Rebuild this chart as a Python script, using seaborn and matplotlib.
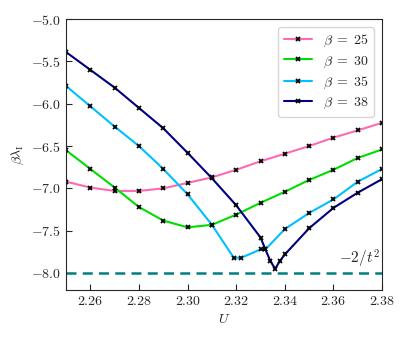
import numpy as np
import pandas as pd
import matplotlib
matplotlib.use('Agg')
import matplotlib.pyplot as plt
import seaborn as sns

# data
u25 = [2.25, 2.26, 2.27, 2.28, 2.29, 2.30, 2.31, 2.32, 2.33, 2.34, 2.35, 2.36, 2.37, 2.38]
b25 = [-6.92, -6.99, -7.03, -7.03, -7.00, -6.935, -6.87, -6.78, -6.68, -6.59, -6.50, -6.40, -6.315, -6.225]

u30 = [2.25, 2.26, 2.27, 2.28, 2.29, 2.30, 2.31, 2.32, 2.33, 2.34, 2.35, 2.36, 2.37, 2.38]
b30 = [-6.55, -6.77, -6.99, -7.22, -7.38, -7.46, -7.43, -7.31, -7.17, -7.04, -6.90, -6.78, -6.64, -6.54]

u35 = [2.25, 2.26, 2.27, 2.28, 2.29, 2.30, 2.31, 2.319, 2.322, 2.33, 2.332, 2.34, 2.35, 2.36, 2.37, 2.38]
b35 = [-5.79, -6.03, -6.27, -6.50, -6.77, -7.07, -7.43, -7.82, -7.82, -7.72, -7.72, -7.48, -7.29, -7.13, -6.92, -6.77]

u38 = [2.25, 2.26, 2.27, 2.28, 2.29, 2.30, 2.31, 2.32, 2.33, 2.332, 2.334, 2.336, 2.338, 2.34, 2.35, 2.36, 2.37, 2.38]
b38 = [-5.39, -5.60, -5.81, -6.05, -6.29, -6.58, -6.88, -7.20, -7.58, -7.72, -7.855, -7.95, -7.855, -7.78, -7.47, -7.23, -7.05, -6.89]

betas = [25, 30, 35, 38]
colors = ['#ff69b4', '#00dd00', '#00bfff', '#000080']
bound = -8.0  # -2/t^2 line

sns.set_style('ticks')
plt.rcParams['font.family'] = 'serif'
plt.rcParams['font.serif'] = ['cmr10']
plt.rcParams['mathtext.fontset'] = 'cm'
plt.rcParams['axes.formatter.use_mathtext'] = True
plt.rcParams['xtick.direction'] = 'in'
plt.rcParams['ytick.direction'] = 'in'

fig = plt.figure(figsize=(4.1, 3.4), dpi=100)
ax = fig.add_axes([0.161, 0.147, 0.771, 0.797])

series = [(u25, b25), (u30, b30), (u35, b35), (u38, b38)]
for (u, b), beta, c in zip(series, betas, colors):
    sns.lineplot(x=u, y=b, color=c, lw=1.5, marker='x', ms=3.5, mec='k', mew=1.3,
                 label=r'$\beta\;=\;%d$' % beta, ax=ax)

ax.axhline(bound, color='#008080', ls='--', lw=1.8, dashes=(4, 2.5))
ax.text(2.379, -7.96, r'$-2/t^2$', ha='right', va='bottom', fontsize=11)

ax.set_xlim(2.25, 2.38)
ax.set_ylim(-8.2, -5.0)
ax.set_xticks([2.26, 2.28, 2.30, 2.32, 2.34, 2.36, 2.38])
ax.set_yticks([-8.0, -7.5, -7.0, -6.5, -6.0, -5.5, -5.0])
ax.xaxis.set_major_formatter(matplotlib.ticker.FormatStrFormatter('$%.2f$'))
ax.yaxis.set_major_formatter(matplotlib.ticker.FuncFormatter(lambda v, p: '$%.1f$' % v))
ax.tick_params(labelsize=10, length=4)
ax.set_xlabel(r'$U$', fontsize=10)
ax.set_ylabel(r'$\beta\lambda_{\rm I}$', fontsize=10)
leg = ax.legend(loc='upper right', fontsize=10, handlelength=2.0, labelspacing=0.35,
                borderaxespad=0.6, fancybox=True)
leg.get_frame().set_edgecolor('0.8')

plt.savefig('out.png', dpi=100)
